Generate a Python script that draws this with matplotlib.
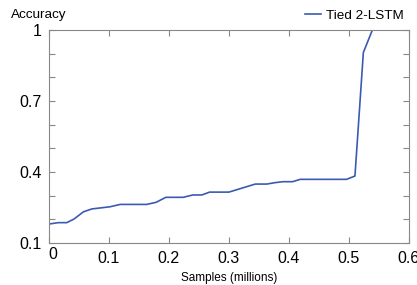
import matplotlib.pyplot as plt
from matplotlib.ticker import MultipleLocator
import matplotlib.transforms as mtransforms

plt.rcParams['font.family'] = ['Liberation Sans', 'DejaVu Sans']

samples = [0.0, 0.016, 0.03, 0.042, 0.058, 0.072, 0.102, 0.119, 0.163, 0.179,
           0.195, 0.224, 0.24, 0.255, 0.268, 0.30, 0.322, 0.344, 0.363, 0.377,
           0.39, 0.406, 0.419, 0.496, 0.51, 0.524, 0.539]
accuracy = [0.18, 0.186, 0.186, 0.201, 0.232, 0.244, 0.253, 0.263, 0.263, 0.272,
            0.293, 0.293, 0.303, 0.303, 0.315, 0.315, 0.332, 0.349, 0.349, 0.355,
            0.359, 0.359, 0.369, 0.369, 0.383, 0.905, 1.0]
label = "Tied 2-LSTM"

xticks = [0, 0.1, 0.2, 0.3, 0.4, 0.5, 0.6]
xticklabels = ["", "0.1", "0.2", "0.3", "0.4", "0.5", "0.6"]
yticks = [0.1, 0.4, 0.7, 1.0]
yticklabels = ["0.1", "0.4", "0.7", "1"]

fig = plt.figure(figsize=(4.17, 2.85), dpi=100)
ax = fig.add_axes([48.7 / 417, 42 / 285, (409 - 48.7) / 417, (243 - 30) / 285])

ax.plot(samples, accuracy, color="#3a5bb0", lw=1.2, label=label)
ax.set_xlim(0, 0.6)
ax.set_ylim(0.1, 1.0)

ax.set_xticks(xticks)
ax.set_xticklabels(xticklabels)
ax.set_yticks(yticks)
ax.set_yticklabels(yticklabels)
ax.yaxis.set_minor_locator(MultipleLocator(0.1))

for s in ax.spines.values():
    s.set_color("#888888")
    s.set_linewidth(0.8)
ax.tick_params(which="both", direction="in", top=True, right=True,
               color="#888888", width=0.8)
ax.tick_params(which="major", length=4, labelsize=11.5)
ax.tick_params(axis="x", pad=6)
ax.tick_params(axis="y", pad=5)
ax.tick_params(which="minor", length=4)
ax.tick_params(axis="x", which="minor", top=False, bottom=False)

# the "0" label sits a bit higher and to the right in the original
off = mtransforms.ScaledTranslation(4 / 100, -4 / 100, fig.dpi_scale_trans)
ax.text(0, 0, "0", transform=ax.get_xaxis_transform() + off,
        ha="center", va="top", fontsize=11.5)

ax.set_xlabel("Samples (millions)", fontsize=8.5)
ax.xaxis.set_label_coords(0.5, -(272 - 243) / 213)
fig.text(11 / 417, 1 - 15 / 285, "Accuracy", fontsize=9.7, va="center", ha="left")

ax.legend(loc="center right", bbox_to_anchor=(404 / 417, 1 - 15.5 / 285),
          bbox_transform=fig.transFigure, frameon=False,
          fontsize=9.7, handlelength=1.2, handletextpad=0.4,
          borderaxespad=0.0, borderpad=0.0)

fig.savefig("out.png", dpi=100)
